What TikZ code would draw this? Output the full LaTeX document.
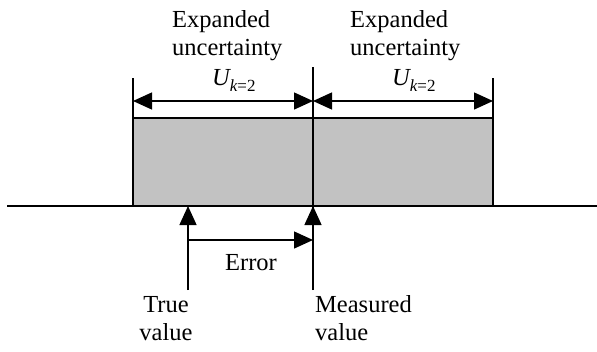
\documentclass[tikz,border=0pt]{standalone}
\usepackage{fontspec}
\setmainfont{Liberation Serif}
\usetikzlibrary{arrows.meta}
\tikzset{
  lbl/.style={inner sep=0pt, font=\fontsize{24.5}{28}\selectfont},
  ulbl/.style={inner sep=0pt, font=\fontsize{24.5}{28}\selectfont},
  thin line/.style={line width=1.4pt},
  tip/.style={-{Triangle[length=19pt,width=17pt]}},
  dtip/.style={{Triangle[length=19pt,width=17pt]}-{Triangle[length=19pt,width=17pt]}},
  band/.style={fill=black!24, draw=black, line width=1.4pt},
}
\newcommand{\Ukk}{{\itshape U}\raisebox{-0.28em}{\fontsize{17}{17}\selectfont\itshape k\upshape =2}}
\begin{document}
\begin{tikzpicture}[x=1pt,y=-1pt]
\useasboundingbox (0,0) rectangle (597,351);
% coordinates
\coordinate (axL) at (7,206);
\coordinate (axR) at (597,206);
\coordinate (bandTL) at (133,118);
\coordinate (bandBR) at (493,206);
\coordinate (cTop) at (313,67);
\coordinate (cBot) at (313,290);
\coordinate (lTickT) at (133,78);
\coordinate (lTickB) at (133,118);
\coordinate (rTickT) at (493,78);
\coordinate (rTickB) at (493,118);
\coordinate (aL) at (133,101);
\coordinate (aM) at (313,101);
\coordinate (aR) at (493,101);
\coordinate (tvBot) at (188,290);
\coordinate (tvTop) at (188,206);
\coordinate (mvTop) at (313,206);
\coordinate (eL) at (188,240);
\coordinate (eR) at (313,240);
% band
\draw[band] (bandTL) rectangle (bandBR);
% axis
\draw[line width=2pt] (axL) -- (axR);
% center line and ticks
\draw[thin line] (cTop) -- (cBot);
\draw[thin line] (lTickT) -- (lTickB);
\draw[thin line] (rTickT) -- (rTickB);
% uncertainty arrows
\draw[thin line, dtip] (aL) -- (aM);
\draw[thin line, dtip] (aM) -- (aR);
% true / measured arrows
\draw[thin line, tip] (tvBot) -- (tvTop);
\draw[thin line, tip] (cBot) -- (mvTop);
\draw[thin line, tip] (eL) -- (eR);
% labels
\node[lbl, anchor=base west] (exL1) at (172,27) {Expanded};
\node[lbl, anchor=base west] (exL2) at (172,55) {uncertainty};
\node[lbl, anchor=base west] (exR1) at (350,27) {Expanded};
\node[lbl, anchor=base west] (exR2) at (350,55) {uncertainty};
\node[ulbl, anchor=base west] (uL) at (212,85) {\Ukk};
\node[ulbl, anchor=base west] (uR) at (392,85) {\Ukk};
\node[lbl, anchor=base] (err) at (251,270) {Error};
\node[lbl, anchor=base] (tv1) at (166,312) {True};
\node[lbl, anchor=base] (tv2) at (166,340) {value};
\node[lbl, anchor=base west] (mv1) at (315,312) {Measured};
\node[lbl, anchor=base west] (mv2) at (315,340) {value};
\end{tikzpicture}
\end{document}
